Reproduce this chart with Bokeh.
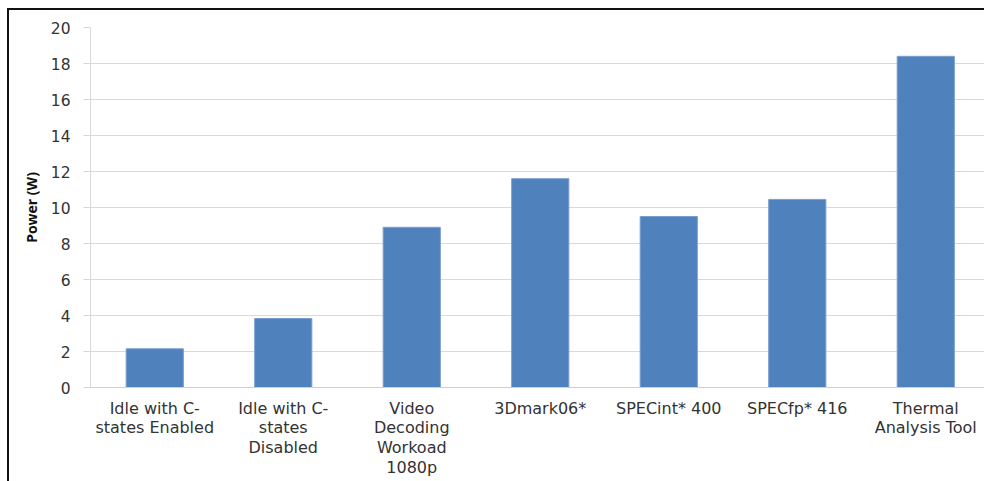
from bokeh.plotting import figure
from bokeh.layouts import column
from bokeh.models import Range1d, FixedTicker, ColumnDataSource
from bokeh.embed import file_html
from bokeh.resources import INLINE

# Average power per workload
categories = [
    "Idle with C-\nstates Enabled",
    "Idle with C-\nstates\nDisabled",
    "Video\nDecoding\nWorkoad\n1080p",
    "3Dmark06*",
    "SPECint* 400",
    "SPECfp* 416",
    "Thermal\nAnalysis Tool",
]
power_w = [2.15, 3.83, 8.9, 11.6, 9.5, 10.45, 18.4]
y_ticks = [0, 2, 4, 6, 8, 10, 12, 14, 16, 18, 20]

FONT = "DejaVu Sans"
TEXT_COLOR = "#333333"
GRID_COLOR = "#d9d9d9"

# bar positions: centred in each category slot
xs = [i + 0.5 for i in range(len(categories))]
src = ColumnDataSource(dict(x=xs, top=power_w))

p = figure(
    width=975, height=471,
    x_range=Range1d(0, 6.957), y_range=Range1d(0, 20),
    output_backend="svg", toolbar_location=None,
    min_border_left=81, min_border_right=0,
    min_border_top=17, min_border_bottom=94,
)
p.outline_line_color = None
p.background_fill_color = "white"
p.border_fill_color = "white"

p.vbar(x="x", top="top", bottom=0, width=0.445, source=src,
       fill_color="#4F81BD", line_color="#7A9FCF", line_width=1)

# y axis
p.yaxis.ticker = FixedTicker(ticks=y_ticks)
p.yaxis.axis_label = "Power (W)"
p.yaxis.axis_label_text_font = "Open Sans"
p.yaxis.axis_label_text_font_style = "bold"
p.yaxis.axis_label_text_font_size = "14px"
p.yaxis.axis_label_text_color = "#111111"
p.yaxis.axis_label_standoff = 7
p.yaxis.major_label_text_font = FONT
p.yaxis.major_label_text_font_size = "15.5px"
p.yaxis.major_label_text_color = TEXT_COLOR
p.yaxis.major_label_standoff = 13
p.yaxis.axis_line_color = GRID_COLOR
p.yaxis.major_tick_line_color = GRID_COLOR
p.yaxis.major_tick_out = 7
p.yaxis.major_tick_in = 0
p.yaxis.minor_tick_line_color = None

# x axis with category labels
p.xaxis.ticker = FixedTicker(ticks=xs)
p.xaxis.major_label_overrides = {x: c for x, c in zip(xs, categories)}
p.xaxis.major_label_text_font = FONT
p.xaxis.major_label_text_font_size = "16px"
p.xaxis.major_label_text_color = TEXT_COLOR
p.xaxis.major_label_text_line_height = 1.05
p.xaxis.major_label_standoff = 5
p.xaxis.axis_line_color = "#cfcfcf"
p.xaxis.major_tick_line_color = None
p.xaxis.minor_tick_line_color = None

p.xgrid.grid_line_color = None
p.ygrid.ticker = FixedTicker(ticks=y_ticks)
p.ygrid.grid_line_color = GRID_COLOR
p.ygrid.grid_line_width = 1

# outer frame: dark rule along the left and top edges
page = column(p, styles={
    "border-left": "2px solid #111111",
    "border-top": "2px solid #111111",
    "margin-left": "7px",
    "margin-top": "8px",
})

open("out.html", "w").write(file_html(page, INLINE))
